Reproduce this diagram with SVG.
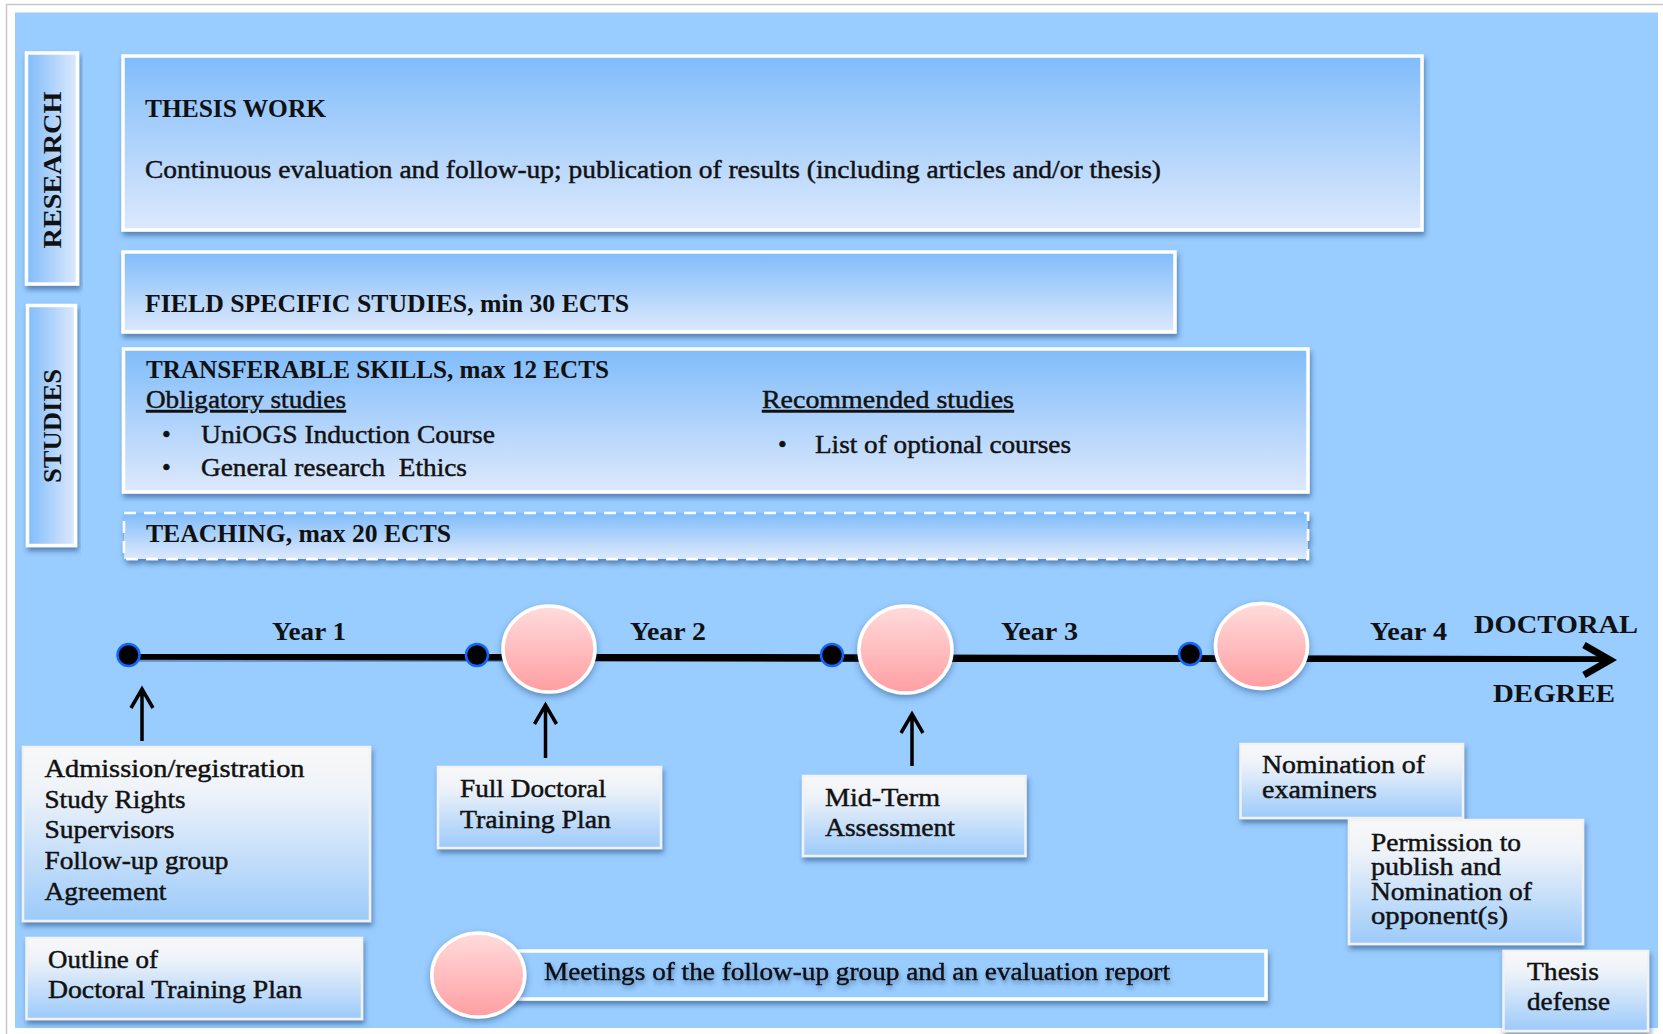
<svg xmlns="http://www.w3.org/2000/svg" width="1663" height="1034" viewBox="0 0 1663 1034">
<defs>
<linearGradient id="gUp" x1="0" y1="0" x2="0" y2="1"><stop offset="0" stop-color="#80bcfb"/><stop offset="1" stop-color="#dde9fc"/></linearGradient>
<linearGradient id="gSide" x1="0" y1="0" x2="1" y2="0"><stop offset="0" stop-color="#80bcfb"/><stop offset="1" stop-color="#dde9fc"/></linearGradient>
<linearGradient id="gLow" x1="0" y1="0" x2="0" y2="1"><stop offset="0" stop-color="#f8f8f8"/><stop offset="0.25" stop-color="#eff3f9"/><stop offset="1" stop-color="#9ccafa"/></linearGradient>
<linearGradient id="gPink" x1="0" y1="0" x2="0" y2="1"><stop offset="0" stop-color="#ffdcdc"/><stop offset="1" stop-color="#ff9ea2"/></linearGradient>
<filter id="sh" x="-10%" y="-20%" width="120%" height="150%"><feDropShadow dx="1.5" dy="4" stdDeviation="2.5" flood-color="#234a7c" flood-opacity="0.55"/></filter>
<filter id="shc" x="-20%" y="-20%" width="140%" height="150%"><feDropShadow dx="0" dy="3" stdDeviation="3" flood-color="#234a7c" flood-opacity="0.5"/></filter>
<filter id="sht" x="-5%" y="-30%" width="110%" height="170%"><feDropShadow dx="1" dy="3" stdDeviation="2" flood-color="#23406a" flood-opacity="0.5"/></filter>
</defs>
<style>
text{font-family:"Liberation Serif","Times New Roman",serif;font-size:25px;fill:#111;stroke:#111;stroke-width:0.45;font-weight:normal}
.up{fill:url(#gUp);stroke:#fff;stroke-width:3.5;filter:url(#sh)}
.side{fill:url(#gSide);stroke:#fff;stroke-width:3.5;filter:url(#sh)}
.low{fill:url(#gLow);stroke:#f2f2f2;stroke-width:2.5;filter:url(#sh)}
.pink{fill:url(#gPink);stroke:#fff;stroke-width:3.5;filter:url(#shc)}
.dot{fill:#000;stroke:#1266ff;stroke-width:2.5}
.arr{fill:none;stroke:#000;stroke-width:3.5}
.hd{font-weight:bold;stroke-width:0}
.yr{font-size:26px;font-weight:bold;stroke-width:0}
</style>
<rect x="6.5" y="4.5" width="1700" height="1100" fill="#fff" stroke="#c8c8c8" stroke-width="1.5"/>
<rect x="15" y="12.5" width="1643" height="1015.5" fill="#99ccff"/>

<g id="research">
<rect class="side" x="26.5" y="53" width="51" height="231"/>
<text class="hd" transform="translate(60.5,170) rotate(-90)" text-anchor="middle" font-size="27" textLength="157" lengthAdjust="spacingAndGlyphs">RESEARCH</text>
</g>
<g id="studies">
<rect class="side" x="27.5" y="305.5" width="48" height="240"/>
<text class="hd" transform="translate(61,426) rotate(-90)" text-anchor="middle" font-size="26" textLength="114" lengthAdjust="spacingAndGlyphs">STUDIES</text>
</g>

<g id="thesis-work">
<rect class="up" x="123" y="56" width="1299" height="174"/>
<text class="hd" x="145" y="117" textLength="181" lengthAdjust="spacingAndGlyphs">THESIS WORK</text>
<text x="145" y="178" textLength="1016" lengthAdjust="spacingAndGlyphs">Continuous evaluation and follow-up; publication of results (including articles and/or thesis)</text>
</g>
<g id="field-specific">
<rect class="up" x="123" y="252" width="1052" height="80"/>
<text class="hd" x="145" y="312" textLength="484" lengthAdjust="spacingAndGlyphs">FIELD SPECIFIC STUDIES, min 30 ECTS</text>
</g>
<g id="transferable">
<rect class="up" x="123.5" y="349" width="1184.5" height="143"/>
<text class="hd" x="146" y="378" textLength="463" lengthAdjust="spacingAndGlyphs">TRANSFERABLE SKILLS, max 12 ECTS</text>
<text x="146" y="408" textLength="200" lengthAdjust="spacingAndGlyphs" text-decoration="underline">Obligatory studies</text>
<text x="162" y="443">•</text>
<text x="201" y="443" textLength="294" lengthAdjust="spacingAndGlyphs">UniOGS Induction Course</text>
<text x="162" y="476">•</text>
<text x="201" y="476" xml:space="preserve" textLength="266" lengthAdjust="spacingAndGlyphs">General research  Ethics</text>
<text x="762" y="408" textLength="252" lengthAdjust="spacingAndGlyphs" text-decoration="underline">Recommended studies</text>
<text x="778" y="453">•</text>
<text x="815" y="453" textLength="256" lengthAdjust="spacingAndGlyphs">List of optional courses</text>
</g>
<g id="teaching">
<rect x="124" y="513" width="1184" height="46" fill="url(#gUp)" stroke="#fff" stroke-width="2.5" stroke-dasharray="12 8" filter="url(#sh)"/>
<text class="hd" x="146" y="542" textLength="305" lengthAdjust="spacingAndGlyphs">TEACHING, max 20 ECTS</text>
</g>

<g id="connectors">
<line x1="128" y1="656" x2="1608" y2="660" stroke="#000" stroke-width="7.5" filter="url(#sht)"/>
<polyline points="1584,645 1610,660 1584,675" fill="none" stroke="#000" stroke-width="7" stroke-linejoin="miter"/>
<path class="arr" d="M142,741 V690 M131,708 L142,689 L153,708"/>
<path class="arr" d="M545.5,758 V706 M534.5,724 L545.5,705 L556.5,724"/>
<path class="arr" d="M912,766 V715 M901,733 L912,714 L923,733"/>
</g>

<g id="timeline-dots">
<circle class="dot" cx="128.5" cy="655" r="11"/>
<circle class="dot" cx="477" cy="655" r="11"/>
<circle class="dot" cx="832" cy="655" r="11"/>
<circle class="dot" cx="1190" cy="654" r="11"/>
</g>
<g id="milestone-1"><ellipse class="pink" cx="549" cy="649" rx="46" ry="43"/></g>
<g id="milestone-2"><ellipse class="pink" cx="905.5" cy="649.5" rx="46.5" ry="43.5"/></g>
<g id="milestone-3"><ellipse class="pink" cx="1261.5" cy="646" rx="46" ry="42.5"/></g>

<g id="year-labels">
<text class="yr" x="272" y="640" textLength="74" lengthAdjust="spacingAndGlyphs">Year 1</text>
<text class="yr" x="630" y="640" textLength="76" lengthAdjust="spacingAndGlyphs">Year 2</text>
<text class="yr" x="1001" y="640" textLength="77" lengthAdjust="spacingAndGlyphs">Year 3</text>
<text class="yr" x="1370" y="640" textLength="77" lengthAdjust="spacingAndGlyphs">Year 4</text>
</g>
<g id="doctoral-degree">
<text class="yr" x="1474" y="633" textLength="164" lengthAdjust="spacingAndGlyphs">DOCTORAL</text>
<text class="yr" x="1493" y="702" textLength="122" lengthAdjust="spacingAndGlyphs">DEGREE</text>
</g>

<g id="admission">
<rect class="low" x="23" y="747" width="347" height="174"/>
<text x="44.5" y="777" textLength="260" lengthAdjust="spacingAndGlyphs">Admission/registration</text>
<text x="44.5" y="808" textLength="141" lengthAdjust="spacingAndGlyphs">Study Rights</text>
<text x="44.5" y="838" textLength="130" lengthAdjust="spacingAndGlyphs">Supervisors</text>
<text x="44.5" y="869" textLength="184" lengthAdjust="spacingAndGlyphs">Follow-up group</text>
<text x="44.5" y="900" textLength="122" lengthAdjust="spacingAndGlyphs">Agreement</text>
</g>
<g id="outline-plan">
<rect class="low" x="26.5" y="938" width="335.5" height="81"/>
<text x="48" y="968" textLength="110" lengthAdjust="spacingAndGlyphs">Outline of</text>
<text x="48" y="998" textLength="254" lengthAdjust="spacingAndGlyphs">Doctoral Training Plan</text>
</g>
<g id="full-plan">
<rect class="low" x="438" y="767" width="223" height="81"/>
<text x="460" y="797" textLength="146" lengthAdjust="spacingAndGlyphs">Full Doctoral</text>
<text x="460" y="828" textLength="151" lengthAdjust="spacingAndGlyphs">Training Plan</text>
</g>
<g id="mid-term">
<rect class="low" x="803" y="776" width="222.5" height="80"/>
<text x="825" y="806" textLength="115" lengthAdjust="spacingAndGlyphs">Mid-Term</text>
<text x="825" y="836" textLength="130" lengthAdjust="spacingAndGlyphs">Assessment</text>
</g>
<g id="nomination-examiners">
<rect class="low" x="1240.5" y="744" width="222.5" height="74"/>
<text x="1262" y="773" textLength="163" lengthAdjust="spacingAndGlyphs">Nomination of</text>
<text x="1262" y="798" textLength="115" lengthAdjust="spacingAndGlyphs">examiners</text>
</g>
<g id="permission">
<rect class="low" x="1349" y="820" width="234" height="124"/>
<text x="1371" y="851" textLength="150" lengthAdjust="spacingAndGlyphs">Permission to</text>
<text x="1371" y="875" textLength="130" lengthAdjust="spacingAndGlyphs">publish and</text>
<text x="1371" y="900" textLength="161" lengthAdjust="spacingAndGlyphs">Nomination of</text>
<text x="1371" y="924" textLength="137" lengthAdjust="spacingAndGlyphs">opponent(s)</text>
</g>
<g id="thesis-defense">
<rect class="low" x="1503.5" y="951" width="144.5" height="80"/>
<text x="1527" y="980" textLength="72" lengthAdjust="spacingAndGlyphs">Thesis</text>
<text x="1527" y="1010" textLength="83" lengthAdjust="spacingAndGlyphs">defense</text>
</g>
<g id="meetings">
<rect x="478" y="951" width="788" height="48" fill="#99ccff" stroke="#fff" stroke-width="3.5" filter="url(#sh)"/>
<ellipse class="pink" cx="478.3" cy="975" rx="46.5" ry="42"/>
<text x="544" y="980" textLength="626" lengthAdjust="spacingAndGlyphs" filter="url(#sht)">Meetings of the follow-up group and an evaluation report</text>
</g>
</svg>
